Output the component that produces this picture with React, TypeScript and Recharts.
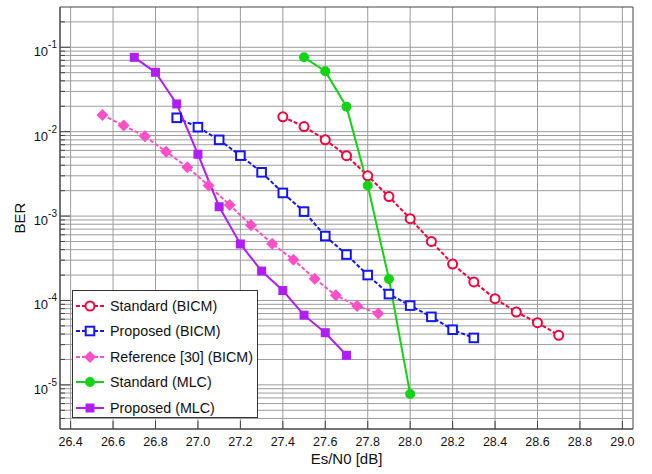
import {
  LineChart,
  Line,
  XAxis,
  YAxis,
  CartesianGrid,
  ReferenceArea,
  ReferenceLine,
} from 'recharts';

const FONT = '"Liberation Sans", Arial, sans-serif';

const xStdBicm = [27.4, 27.5, 27.6, 27.7, 27.8, 27.9, 28.0, 28.1, 28.2, 28.3, 28.4, 28.5, 28.6, 28.7];
const berStdBicm = [0.015, 0.0115, 0.008, 0.0052, 0.003, 0.0017, 0.00093, 0.0005, 0.00027, 0.000166, 0.000105, 0.000073, 0.0000545, 0.0000387];

const xPropBicm = [26.9, 27.0, 27.1, 27.2, 27.3, 27.4, 27.5, 27.6, 27.7, 27.8, 27.9, 28.0, 28.1, 28.2, 28.3];
const berPropBicm = [0.0146, 0.0113, 0.008, 0.0052, 0.0033, 0.00188, 0.00113, 0.00058, 0.00035, 0.0002, 0.000119, 0.000087, 0.000064, 0.000045, 0.000036];

const xRefBicm = [26.55, 26.65, 26.75, 26.85, 26.95, 27.05, 27.15, 27.25, 27.35, 27.45, 27.55, 27.65, 27.75, 27.85];
const berRefBicm = [0.0158, 0.0118, 0.0088, 0.0058, 0.0038, 0.0023, 0.00135, 0.00078, 0.00047, 0.000304, 0.000181, 0.000115, 0.000086, 0.00007];

const xStdMlc = [27.5, 27.6, 27.7, 27.8, 27.9, 28.0];
const berStdMlc = [0.076, 0.052, 0.0198, 0.0023, 0.00018, 0.0000078];

const xPropMlc = [26.7, 26.8, 26.9, 27.0, 27.1, 27.2, 27.3, 27.4, 27.5, 27.6, 27.7];
const berPropMlc = [0.076, 0.0505, 0.0213, 0.0054, 0.00129, 0.000467, 0.000223, 0.000131, 0.000067, 0.0000415, 0.0000224];

const xTicks = [26.4, 26.6, 26.8, 27.0, 27.2, 27.4, 27.6, 27.8, 28.0, 28.2, 28.4, 28.6, 28.8, 29.0];
const xGrid = [26.4, 26.5, 26.6, 26.7, 26.8, 26.9, 27.0, 27.1, 27.2, 27.3, 27.4, 27.5, 27.6, 27.7, 27.8, 27.9, 28.0, 28.1, 28.2, 28.3, 28.4, 28.5, 28.6, 28.7, 28.8, 28.9, 29.0];
const yDecades = [1e-1, 1e-2, 1e-3, 1e-4, 1e-5];
const yExponents = [-1, -2, -3, -4, -5];
const yGrid = [
  4e-6, 5e-6, 6e-6, 7e-6, 8e-6, 9e-6,
  1e-5, 2e-5, 3e-5, 4e-5, 5e-5, 6e-5, 7e-5, 8e-5, 9e-5,
  1e-4, 2e-4, 3e-4, 4e-4, 5e-4, 6e-4, 7e-4, 8e-4, 9e-4,
  1e-3, 2e-3, 3e-3, 4e-3, 5e-3, 6e-3, 7e-3, 8e-3, 9e-3,
  1e-2, 2e-2, 3e-2, 4e-2, 5e-2, 6e-2, 7e-2, 8e-2, 9e-2,
  1e-1, 2e-1,
];

const toPoints = (xs: number[], ys: number[]) => xs.map((x, i) => ({ x, y: ys[i] }));

const RED = '#f2003a';
const BLUE = '#1515f0';
const PINK = '#ff4fc8';
const GREEN = '#14d214';
const PURPLE = '#b01ef5';

type Shape = 'openCircle' | 'openSquare' | 'diamond' | 'circle' | 'square';

const Marker = ({ shape, color, cx, cy }: { shape: Shape; color: string; cx: number; cy: number }) => {
  if (shape === 'openCircle')
    return <circle cx={cx} cy={cy} r={4.5} fill="white" stroke={color} strokeWidth={2} />;
  if (shape === 'openSquare')
    return <rect x={cx - 4.3} y={cy - 4.3} width={8.6} height={8.6} fill="white" stroke={color} strokeWidth={2} />;
  if (shape === 'diamond')
    return <polygon points={`${cx},${cy - 6} ${cx + 6},${cy} ${cx},${cy + 6} ${cx - 6},${cy}`} fill={color} />;
  if (shape === 'circle') return <circle cx={cx} cy={cy} r={5} fill={color} />;
  return <rect x={cx - 4.5} y={cy - 4.5} width={9} height={9} fill={color} />;
};

const series = [
  { name: 'Standard (BICM)', data: toPoints(xStdBicm, berStdBicm), color: RED, shape: 'openCircle' as Shape, dash: '4 2' },
  { name: 'Proposed (BICM)', data: toPoints(xPropBicm, berPropBicm), color: BLUE, shape: 'openSquare' as Shape, dash: '4 2' },
  { name: 'Reference [30] (BICM)', data: toPoints(xRefBicm, berRefBicm), color: PINK, shape: 'diamond' as Shape, dash: '4 2' },
  { name: 'Standard (MLC)', data: toPoints(xStdMlc, berStdMlc), color: GREEN, shape: 'circle' as Shape, dash: undefined },
  { name: 'Proposed (MLC)', data: toPoints(xPropMlc, berPropMlc), color: PURPLE, shape: 'square' as Shape, dash: undefined },
];

// y ticks: every grid value gets a short inward mark, decades get a label
const YTick = (props: any) => {
  const { x, y, payload } = props;
  const idx = yDecades.indexOf(payload.value);
  const axisX = x + 8;
  if (idx < 0) {
    return <line x1={axisX} y1={y} x2={axisX + 5} y2={y} stroke="#444" strokeWidth={1} />;
  }
  return (
    <g>
      <line x1={axisX} y1={y} x2={axisX + 10} y2={y} stroke="#444" strokeWidth={1} />
      <text x={x + 5} y={y + 9} textAnchor="end" fontFamily={FONT} fontSize={13} fill="#111">
        10
        <tspan dy={-8} fontSize={10}>{yExponents[idx]}</tspan>
      </text>
    </g>
  );
};

const XTick = (props: any) => {
  const { x, y, payload } = props;
  const axisY = y - 6;
  return (
    <g>
      <line x1={x} y1={axisY} x2={x} y2={axisY - 8} stroke="#444" strokeWidth={1} />
      <text x={x} y={y + 11} textAnchor="middle" fontFamily={FONT} fontSize={12.5} fill="#111">
        {Number(payload.value).toFixed(1)}
      </text>
    </g>
  );
};

const LegendBox = () => (
  <div
    style={{
      position: 'absolute',
      left: 72,
      top: 290,
      border: '1px solid #333',
      background: 'white',
      width: 186,
      height: 128,
      boxSizing: 'border-box',
      padding: '2px 0 0 2px',
      fontFamily: FONT,
      fontSize: 14.3,
      color: '#111',
    }}
  >
    {series.map((s) => (
      <div key={s.name} style={{ display: 'flex', alignItems: 'center', height: 25.5 }}>
        <svg width={32} height={14}>
          <line x1={1} y1={7} x2={29} y2={7} stroke={s.color} strokeWidth={2} strokeDasharray={s.dash} />
          <Marker shape={s.shape} color={s.color} cx={15} cy={7} />
        </svg>
        <span style={{ marginLeft: 3, whiteSpace: 'nowrap' }}>{s.name}</span>
      </div>
    ))}
  </div>
);

export default function App() {
  return (
    <div style={{ position: 'absolute', left: 0, top: 0, width: 652, height: 474, background: 'white' }}>
      <LineChart width={652} height={474} margin={{ top: 7, right: 19, bottom: 0, left: 0 }}>
        <CartesianGrid horizontal={false} verticalValues={xGrid} stroke="#9c9c9c" strokeWidth={1} />
        <XAxis
          type="number"
          dataKey="x"
          domain={[26.35, 29.05]}
          ticks={xTicks}
          allowDataOverflow
          height={45}
          tickLine={false}
          axisLine={{ stroke: '#444' }}
          tick={<XTick />}
          tickSize={6}
          tickMargin={0}
          label={{ value: 'Es/N0 [dB]', position: 'insideBottom', offset: 10, style: { fontFamily: FONT, fontSize: 15, fill: '#111' } }}
        />
        <YAxis
          type="number"
          scale="log"
          domain={[3e-6, 0.3]}
          allowDataOverflow
          ticks={yGrid}
          interval={0}
          width={60}
          tickLine={false}
          axisLine={{ stroke: '#444' }}
          tick={<YTick />}
          label={{ value: 'BER', angle: -90, position: 'insideLeft', offset: 20, style: { fontFamily: FONT, fontSize: 15, fill: '#111', textAnchor: 'middle' } }}
        />
        {yGrid.map((v) => (
          <ReferenceLine key={v} y={v} stroke="#9c9c9c" strokeWidth={1} ifOverflow="hidden" />
        ))}
        <ReferenceArea x1={26.35} x2={29.05} y1={3e-6} y2={0.3} fill="none" stroke="#444" strokeWidth={1} ifOverflow="visible" />
        {series.map((s) => (
          <Line
            key={s.name}
            data={s.data}
            dataKey="y"
            name={s.name}
            type="linear"
            stroke={s.color}
            strokeWidth={2}
            strokeDasharray={s.dash}
            isAnimationActive={false}
            dot={(p: any) => <Marker key={`${s.name}-${p.index}`} shape={s.shape} color={s.color} cx={p.cx} cy={p.cy} />}
            activeDot={false}
          />
        ))}
      </LineChart>
      <LegendBox />
    </div>
  );
}
